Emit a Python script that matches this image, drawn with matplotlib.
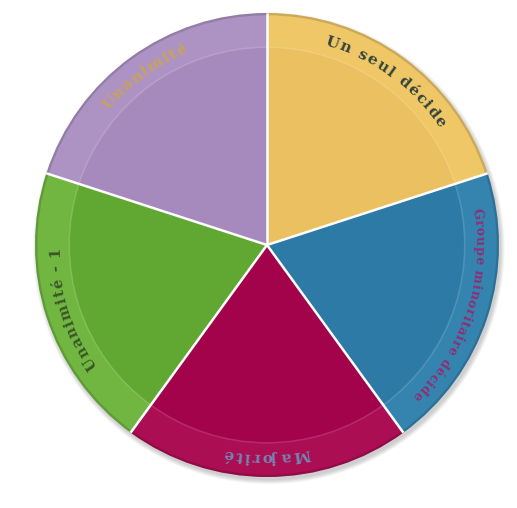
import numpy as np
import matplotlib
matplotlib.use("Agg")
import matplotlib.pyplot as plt
from matplotlib.patches import Wedge, Circle
from matplotlib.font_manager import FontProperties
from matplotlib.textpath import text_to_path

# Données
etiquettes = ["Un seul décide", "Groupe minoritaire décide", "Majorité",
              "Unanimité - 1", "Unanimité"]
valeurs = [1, 1, 1, 1, 1]

# Style
couleurs = ["#eac061", "#2e7aa6", "#a3034a", "#61a832", "#a68abe"]
couleurs_anneau = ["#efc767", "#3584b0", "#ab0e53", "#70b640", "#ad93c4"]
couleurs_texte = ["#34443e", "#8c2f72", "#7584b0", "#3a5629", "#c9a259"]
tailles = [11, 9, 11, 10.5, 11]
espacement = [1.6, 0.9, 1.8, 1.4, 1.4]  # px entre lettres

W, H, DPI = 517, 508, 100
cx, cy, R = 267, 245, 232  # centre et rayon en pixels

fig = plt.figure(figsize=(W / DPI, H / DPI), dpi=DPI)
ax = fig.add_axes([0, 0, 1, 1])
ax.set_xlim(-cx / R, (W - cx) / R)
ax.set_ylim(-(H - cy) / R, cy / R)
ax.axis("off")

# Ombre légère en bas à droite
for k in range(5):
    ax.add_patch(Circle((0.008, -0.014), 1.0 + 0.004 * k, color="#000000",
                        alpha=0.04, lw=0, zorder=0))

total = sum(valeurs)
angles = 360 * np.cumsum([0] + valeurs) / total
debut = 90

for i, lab in enumerate(etiquettes):
    a1 = debut - angles[i]
    a2 = debut - angles[i + 1]
    # anneau extérieur
    ax.add_patch(Wedge((0, 0), 1.0, a2, a1, facecolor=couleurs_anneau[i],
                       edgecolor="none", zorder=1))
    # bord sombre
    ax.add_patch(Wedge((0, 0), 1.0, a2, a1, width=0.01,
                       facecolor="black", alpha=0.15, edgecolor="none", zorder=2))
    # partie intérieure
    ax.add_patch(Wedge((0, 0), 0.85, a2, a1, facecolor=couleurs[i],
                       edgecolor="none", zorder=2))
    ax.add_patch(Wedge((0, 0), 0.856, a2, a1, width=0.007,
                       facecolor="white", alpha=0.12, edgecolor="none", zorder=2))

# séparateurs blancs
for i in range(len(valeurs)):
    a = np.deg2rad(debut - angles[i])
    ax.plot([0, np.cos(a)], [0, np.sin(a)], color="white", lw=1.8,
            solid_capstyle="butt", zorder=3)

# texte courbé le long du bord (sens horaire)
r_txt = 0.915
r_px = r_txt * R
for i, lab in enumerate(etiquettes):
    fp = FontProperties(family="DejaVu Serif", weight="bold", size=tailles[i])
    larg = []
    for ch in lab:
        w, h, d = text_to_path.get_text_width_height_descent(ch, fp, ismath=False)
        larg.append(w * DPI / 72 + espacement[i])
    L = sum(larg)
    mid = debut - (angles[i] + angles[i + 1]) / 2
    start = mid + np.rad2deg(L / r_px) / 2
    cum = 0
    for ch, w in zip(lab, larg):
        th = start - np.rad2deg((cum + w / 2) / r_px)
        t = np.deg2rad(th)
        ax.text(r_txt * np.cos(t), r_txt * np.sin(t), ch, fontproperties=fp,
                color=couleurs_texte[i], rotation=th - 90, rotation_mode="anchor",
                ha="center", va="center", zorder=5)
        cum += w

fig.savefig("out.png", dpi=DPI, facecolor="white")
